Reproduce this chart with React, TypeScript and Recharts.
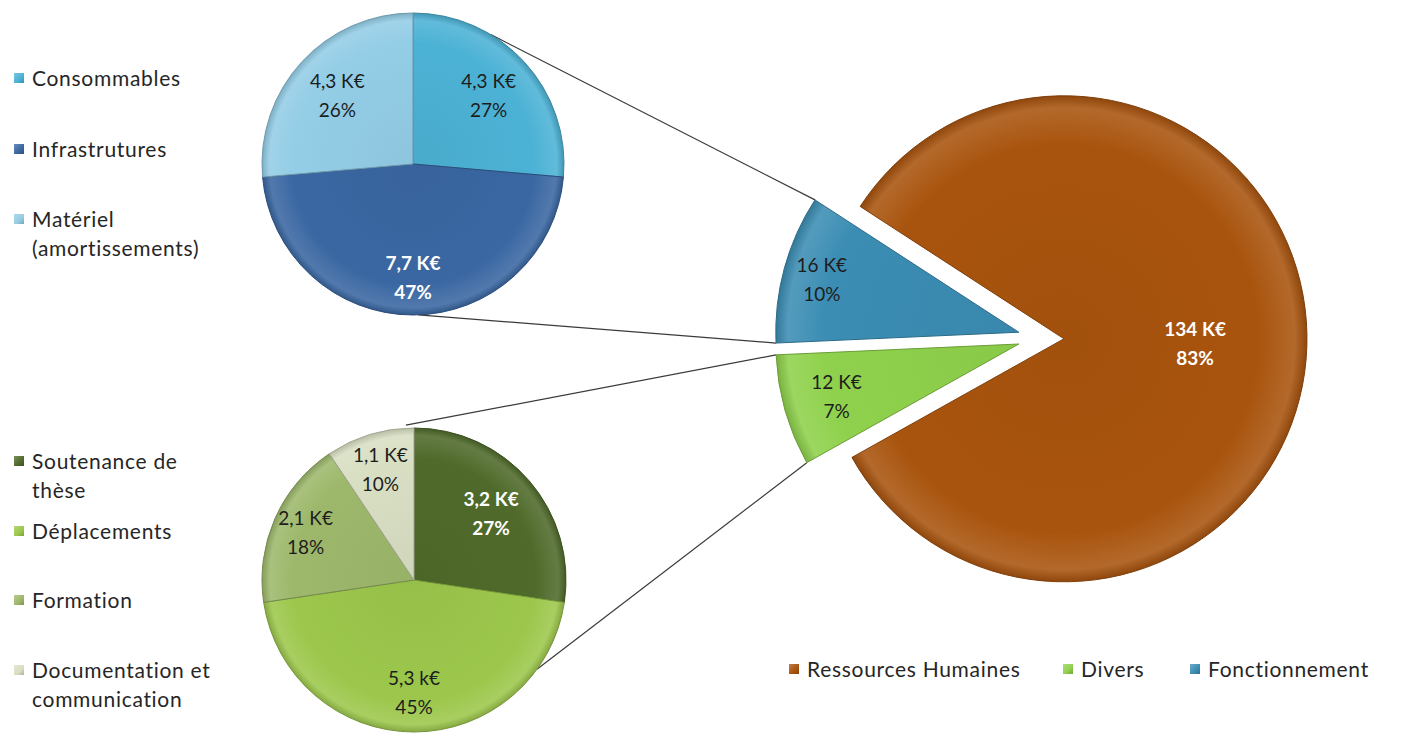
import React from 'react'
import { PieChart, Pie, Cell, Sector } from 'recharts'

// main pie (ordered counter-clockwise from the Fonctionnement slice)
const mainNames = ['Fonctionnement', 'Divers', 'Ressources Humaines']
const mainValues = [16, 12, 134]
const mainAmounts = ['16 K€', '12 K€', '134 K€']
const mainPercents = ['10%', '7%', '83%']

// Fonctionnement breakdown
const fonctNames = ['Consommables', 'Infrastrutures', 'Matériel (amortissements)']
const fonctValues = [4.3, 7.7, 4.3]
const fonctAmounts = ['4,3 K€', '7,7 K€', '4,3 K€']
const fonctPercents = ['27%', '47%', '26%']

// Divers breakdown
const diversNames = ['Soutenance de thèse', 'Déplacements', 'Formation', 'Documentation et communication']
const diversValues = [3.2, 5.3, 2.1, 1.1]
const diversAmounts = ['3,2 K€', '5,3 k€', '2,1 K€', '1,1 K€']
const diversPercents = ['27%', '45%', '18%', '10%']

const mainColors = ['#3b8db4', '#8fd14c', '#a9540e']
const fonctColors = ['#4cb2d5', '#3a67a2', '#93cde6']
const diversColors = ['#4f6a2a', '#9cc74c', '#9db86b', '#d8dfc3']

const mainText = ['#1d1d1d', '#1d1d1d', '#ffffff']
const fonctText = ['#1d1d1d', '#ffffff', '#1d1d1d']
const diversText = ['#ffffff', '#1d1d1d', '#1d1d1d', '#1d1d1d']

const mainLabelR = [0.84, 0.78, 0.54]
const fonctLabelR = [0.68, 0.75, 0.68]
const diversLabelR = [0.67, 0.74, 0.78, 0.76]

const mainExplode = [22, 22, 24]

const FONT = 'Lato, "Open Sans", sans-serif'
const RAD = Math.PI / 180

const MAIN = { cx: 1040, cy: 338, r: 243, start: 147 }
const TOP = { cx: 413, cy: 164, r: 151 }
const BOT = { cx: 414, cy: 580, r: 152 }

const toRows = (names: string[], values: number[]) =>
  names.map((name, i) => ({ name, value: values[i], idx: i }))

const mainData = toRows(mainNames, mainValues)
const fonctData = toRows(fonctNames, fonctValues)
const diversData = toRows(diversNames, diversValues)

function lighten(hex: string, amt: number) {
  const n = parseInt(hex.slice(1), 16)
  const f = (c: number) => Math.max(0, Math.min(255, Math.round(c + (amt > 0 ? (255 - c) * amt : c * amt))))
  const r = f((n >> 16) & 255), g = f((n >> 8) & 255), b = f(n & 255)
  return `rgb(${r},${g},${b})`
}

function makeShape(prefix: string, colors: string[], explode?: number[]) {
  return (props: any) => {
    const i = props.payload?.idx ?? props.idx ?? 0
    const off = explode ? explode[i] : 0
    const cx = props.cx + Math.cos(-props.midAngle * RAD) * off
    const cy = props.cy + Math.sin(-props.midAngle * RAD) * off
    const id = `${prefix}-g-${i}`
    const c = colors[i]
    return (
      <g>
        <defs>
          <radialGradient id={id} cx={cx} cy={cy} r={props.outerRadius} gradientUnits="userSpaceOnUse">
            <stop offset="0" stopColor={lighten(c, -0.04)} />
            <stop offset="0.8" stopColor={c} />
            <stop offset="0.95" stopColor={lighten(c, 0.12)} />
            <stop offset="1" stopColor={lighten(c, -0.15)} />
          </radialGradient>
        </defs>
        <Sector
          cx={cx}
          cy={cy}
          innerRadius={0}
          outerRadius={props.outerRadius}
          startAngle={props.startAngle}
          endAngle={props.endAngle}
          fill={`url(#${id})`}
          stroke={lighten(c, -0.25)}
          strokeWidth={1}
        />
      </g>
    )
  }
}

function makeLabel(amounts: string[], percents: string[], textColors: string[], fracs: number[], explode?: number[]) {
  return (props: any) => {
    const i = props.index
    const off = explode ? explode[i] : 0
    const dir = -props.midAngle * RAD
    const d = off + fracs[i] * props.outerRadius
    const x = props.cx + Math.cos(dir) * d
    const y = props.cy + Math.sin(dir) * d
    const white = textColors[i] === '#ffffff'
    return (
      <text
        x={x}
        y={y}
        textAnchor="middle"
        fill={textColors[i]}
        fontFamily={FONT}
        fontSize={19}
        fontWeight={white ? 700 : 400}
      >
        <tspan x={x} dy={-7}>{amounts[i]}</tspan>
        <tspan x={x} dy={29}>{percents[i]}</tspan>
      </text>
    )
  }
}

function ptOn(c: { cx: number; cy: number }, r: number, deg: number) {
  return { x: c.cx + Math.cos(-deg * RAD) * r, y: c.cy + Math.sin(-deg * RAD) * r }
}

const legendText = { fontFamily: FONT, fontSize: 21, letterSpacing: 0.7, lineHeight: '29px', color: '#262626' }

function Legend({ names, colors, top, left, step }: { names: string[]; colors: string[]; top: number; left: number; step: number }) {
  return (
    <>
      {names.map((n, i) => (
        <div
          key={n}
          style={{ position: 'absolute', left, top: top + i * step, display: 'flex', alignItems: 'flex-start' }}
        >
          <span
            style={{
              width: 10,
              height: 10,
              marginTop: 10,
              marginRight: 8,
              background: `linear-gradient(135deg, ${lighten(colors[i], 0.25)}, ${colors[i]} 60%, ${lighten(colors[i], -0.2)})`,
              flex: 'none',
            }}
          />
          <span style={{ ...legendText, width: 195 }}>{n}</span>
        </div>
      ))}
    </>
  )
}

export default function App() {
  const mainTotal = mainValues.reduce((a, b) => a + b, 0)
  // angles of the Fonctionnement and Divers slices, for the connectors
  const fEnd = MAIN.start + (mainValues[0] / mainTotal) * 360
  const dEnd = fEnd + (mainValues[1] / mainTotal) * 360
  const fMid = (MAIN.start + fEnd) / 2
  const dMid = (fEnd + dEnd) / 2
  const fC = { cx: MAIN.cx + Math.cos(-fMid * RAD) * mainExplode[0], cy: MAIN.cy + Math.sin(-fMid * RAD) * mainExplode[0] }
  const dC = { cx: MAIN.cx + Math.cos(-dMid * RAD) * mainExplode[1], cy: MAIN.cy + Math.sin(-dMid * RAD) * mainExplode[1] }

  const connectors = [
    [ptOn(TOP, TOP.r, 59), ptOn(fC, MAIN.r, MAIN.start)],
    [ptOn(TOP, TOP.r, -88), ptOn(fC, MAIN.r, fEnd)],
    [ptOn(BOT, BOT.r + 3, 93), ptOn(dC, MAIN.r, fEnd)],
    [ptOn(BOT, BOT.r, -36), ptOn(dC, MAIN.r, dEnd)],
  ]

  const bottomLegend = [...mainNames].reverse()
  const bottomColors = [...mainColors].reverse()
  const bottomX = [789, 1063, 1190]

  return (
    <div style={{ position: 'absolute', left: 0, top: 0, width: 1403, height: 733, background: '#fff', overflow: 'hidden' }}>
      <svg width={1403} height={733} style={{ position: 'absolute', left: 0, top: 0 }}>
        {connectors.map(([a, b], i) => (
          <line key={i} x1={a.x} y1={a.y} x2={b.x} y2={b.y} stroke="#3a3a3a" strokeWidth={1.2} />
        ))}
      </svg>
      <div style={{ position: 'absolute', left: 0, top: 0 }}>
        <PieChart width={1403} height={733} margin={{ top: 0, right: 0, bottom: 0, left: 0 }}>
          <Pie
            data={mainData}
            dataKey="value"
            nameKey="name"
            cx={MAIN.cx}
            cy={MAIN.cy}
            outerRadius={MAIN.r}
            startAngle={MAIN.start}
            endAngle={MAIN.start + 360}
            stroke="none"
            isAnimationActive={false}
            labelLine={false}
            label={makeLabel(mainAmounts, mainPercents, mainText, mainLabelR, mainExplode)}
            shape={makeShape('m', mainColors, mainExplode)}
            inactiveShape={makeShape('m', mainColors, mainExplode)}
            activeShape={makeShape('m', mainColors, mainExplode)}
          >
            {mainData.map((d, i) => (
              <Cell key={d.name} fill={mainColors[i]} />
            ))}
          </Pie>
          <Pie
            data={fonctData}
            dataKey="value"
            nameKey="name"
            cx={TOP.cx}
            cy={TOP.cy}
            outerRadius={TOP.r}
            startAngle={90}
            endAngle={-270}
            stroke="none"
            isAnimationActive={false}
            labelLine={false}
            label={makeLabel(fonctAmounts, fonctPercents, fonctText, fonctLabelR)}
            shape={makeShape('t', fonctColors)}
            inactiveShape={makeShape('t', fonctColors)}
            activeShape={makeShape('t', fonctColors)}
          >
            {fonctData.map((d, i) => (
              <Cell key={d.name} fill={fonctColors[i]} />
            ))}
          </Pie>
          <Pie
            data={diversData}
            dataKey="value"
            nameKey="name"
            cx={BOT.cx}
            cy={BOT.cy}
            outerRadius={BOT.r}
            startAngle={90}
            endAngle={-270}
            stroke="none"
            isAnimationActive={false}
            labelLine={false}
            label={makeLabel(diversAmounts, diversPercents, diversText, diversLabelR)}
            shape={makeShape('b', diversColors)}
            inactiveShape={makeShape('b', diversColors)}
            activeShape={makeShape('b', diversColors)}
          >
            {diversData.map((d, i) => (
              <Cell key={d.name} fill={diversColors[i]} />
            ))}
          </Pie>
        </PieChart>
      </div>

      <Legend names={fonctNames} colors={fonctColors} top={63} left={14} step={70.5} />
      <Legend names={diversNames} colors={diversColors} top={446} left={14} step={69.5} />

      {bottomLegend.map((n, i) => (
        <div
          key={n}
          style={{ position: 'absolute', left: bottomX[i], top: 654, display: 'flex', alignItems: 'center', whiteSpace: 'nowrap' }}
        >
          <span
            style={{
              width: 10,
              height: 10,
              marginRight: 8,
              background: `linear-gradient(135deg, ${lighten(bottomColors[i], 0.25)}, ${bottomColors[i]} 60%, ${lighten(bottomColors[i], -0.2)})`,
            }}
          />
          <span style={legendText}>{n}</span>
        </div>
      ))}
    </div>
  )
}
